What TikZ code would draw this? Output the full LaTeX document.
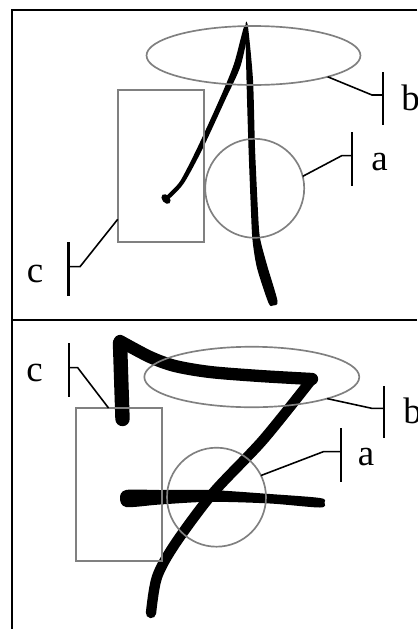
\documentclass[tikz,border=0pt]{standalone}
\usepackage{fontspec}
\setmainfont{Liberation Serif}
\usetikzlibrary{shapes.geometric}
\definecolor{shapegray}{RGB}{128,128,128}
\begin{document}
\begin{tikzpicture}[x=0.02cm,y=-0.02cm,
  frame/.style={line width=1.3pt},
  region/.style={draw=shapegray, line width=0.95pt, inner sep=0pt, outer sep=0pt},
  leader/.style={line width=0.9pt},
  tick/.style={line width=1.3pt},
  lbl/.style={font=\fontsize{21}{21}\selectfont, inner sep=0pt, anchor=base west},
  ink/.style={line cap=round, line join=round}
]
\useasboundingbox (0,0) rectangle (417,629);
\fill[white] (0,0) rectangle (417,629);

% frame
\draw[frame] (417,10) -- (12,10) -- (12,629);
\draw[frame] (12,320) -- (417,320);

% ---------- top panel strokes ----------
\fill plot[smooth cycle, tension=0.45] coordinates {(245.5,26) (246.5,80) (248.5,148) (251,212) (252.5,240) (257,268) (268.5,303) (273,305.5) (277.5,301) (267,265) (260,238) (258,212) (255,148) (253,80) (248,27)};
\fill plot[smooth cycle, tension=0.45] coordinates {(244,27) (234,63.8) (220.6,96.9) (197.8,146.9) (180.2,181.1) (166.5,196) (169.5,198.5) (184,183) (202.4,149.1) (225.6,99.1) (240.5,66.2) (248,31)};
\fill[rotate around={-50:(166,199)}] (166,199) ellipse (5.5 and 3.8);

% ---------- bottom panel strokes ----------
\draw[ink, line width=8.2pt] (122.5,419) -- (120,343);
\draw[ink, line width=7pt] plot[smooth] coordinates {(120,341) (150,357) (175,366) (210,372) (260,376) (312,379)};
\draw[ink, line width=5.9pt] plot[smooth] coordinates {(312,379) (263,440) (213,493) (175,544) (157,577) (151,613)};
\fill plot[smooth cycle, tension=0.5] coordinates {(120,498) (126,490) (160,490) (210,490) (270,494) (320,498) (324.5,502.5) (320,507.5) (270,503.5) (210,501.8) (160,504.5) (126,507)};

% ---------- top panel regions ----------
\node[region, ellipse, minimum width=4.28cm, minimum height=1.18cm] (e1) at (253.5,55.5) {};
\node[region, circle, minimum size=1.98cm] (c1) at (254.7,188.3) {};
\node[region, rectangle, minimum width=1.72cm, minimum height=3.04cm] (r1) at (160.7,166.2) {};

% top labels
\coordinate (tbk) at (372,95);  \coordinate (tbt) at (383,95);
\coordinate (tak) at (341.7,155.7); \coordinate (tat) at (351.7,155.7);
\coordinate (tck) at (80,266.7); \coordinate (tct) at (68.5,266.7);
\draw[leader] (e1.-16) -- (tbk) -- (tbt);
\draw[tick] (383,72) -- (383,125);
\draw[leader] (c1.14) -- (tak) -- (tat);
\draw[tick] (351.7,132) -- (351.7,185.7);
\draw[leader] (r1.231.4) -- (tck) -- (tct);
\draw[tick] (68.5,242) -- (68.5,296);
\node[lbl] (tb) at (401,110) {b};
\node[lbl] (ta) at (371,170.7) {a};
\node[lbl] (tc) at (26.5,282.3) {c};

% ---------- bottom panel regions ----------
\node[region, ellipse, minimum width=4.3cm, minimum height=1.21cm] (e2) at (251.8,377) {};
\node[region, circle, minimum size=1.98cm] (c2) at (216.5,497.2) {};
\node[region, rectangle, minimum width=1.72cm, minimum height=3.06cm] (r2) at (119.3,484.5) {};

% bottom labels
\coordinate (bbk) at (371.7,408.3); \coordinate (bbt) at (384,408.3);
\coordinate (bak) at (323.3,451.7); \coordinate (bat) at (340.7,451.7);
\coordinate (bck) at (77.7,367.7); \coordinate (bct) at (69,367.7);
\draw[leader] (e2.-16) -- (bbk) -- (bbt);
\draw[tick] (384,386) -- (384,437.7);
\draw[leader] (c2.26) -- (bak) -- (bat);
\draw[tick] (340.7,428.3) -- (340.7,481.7);
\draw[leader] (r2.98) -- (bck) -- (bct);
\draw[tick] (69,343.3) -- (69,397.3);
\node[lbl] (bb) at (403,423) {b};
\node[lbl] (ba) at (357.5,465.7) {a};
\node[lbl] (bc) at (26,381) {c};
\end{tikzpicture}
\end{document}
